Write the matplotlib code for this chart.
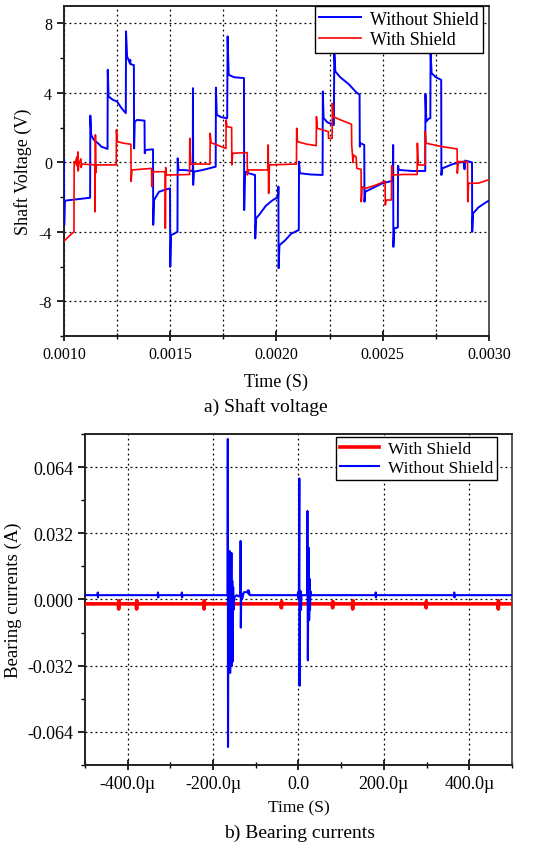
import numpy as np
import matplotlib
matplotlib.use("Agg")
from matplotlib import pyplot as plt
from matplotlib.ticker import MultipleLocator, FuncFormatter

plt.rcParams['font.family'] = ['Liberation Serif', 'DejaVu Serif']

# ---- a) shaft voltage, breakpoints (time in ms, volts)
t_noshield = [1.000, 1.001, 1.004, 1.010, 1.123,
              1.124, 1.128, 1.140, 1.160, 1.176, 1.205,
              1.206, 1.210, 1.230, 1.250, 1.272, 1.291,
              1.292, 1.297, 1.310, 1.312, 1.313, 1.329,
              1.330, 1.333, 1.345, 1.379,
              1.380, 1.384, 1.419,
              1.420, 1.424, 1.447, 1.470, 1.499,
              1.500, 1.504, 1.520, 1.534,
              1.535, 1.539, 1.570, 1.606,
              1.607, 1.608, 1.611, 1.650, 1.714,
              1.715, 1.719, 1.740, 1.768,
              1.770, 1.775, 1.800, 1.847,
              1.848, 1.852, 1.875, 1.899,
              1.900, 1.904, 1.920, 1.950, 1.980, 2.008,
              2.009, 2.010, 2.014, 2.040, 2.070, 2.105,
              2.106, 2.110, 2.160, 2.217,
              2.218, 2.222, 2.240, 2.270,
              2.272, 2.277, 2.300, 2.340, 2.370, 2.391,
              2.392, 2.395, 2.413,
              2.414, 2.418, 2.450, 2.500, 2.548,
              2.549, 2.550, 2.554, 2.571,
              2.572, 2.576, 2.640, 2.700,
              2.701, 2.705, 2.715, 2.724,
              2.725, 2.730, 2.750, 2.775,
              2.776, 2.780, 2.830, 2.880, 2.885, 2.888, 2.920,
              2.921, 2.925, 2.950, 2.980, 3.000]
v_noshield = [0.2, -3.6, -2.25, -2.2, -2.04,
              2.69, 1.58, 1.3, 1.1, 0.9, 0.77,
              5.33, 3.79, 3.6, 3.5, 3.1, 2.83,
              7.54, 6.1, 5.71, 5.9, 5.65, 5.6,
              0.8, 2.35, 2.44, 2.4,
              0.52, 0.71, 0.75,
              -3.6, -2.17, -1.7, -1.6, -1.5,
              -6.02, -4.19, -4.1, -4.0,
              0.23, -0.44, -0.45, -0.5,
              4.27, -1.3, -0.54, -0.45, -0.25,
              4.3, 2.73, 2.6, 2.54,
              7.25, 5.04, 4.9, 4.85,
              -2.75, -0.54, -0.65, -0.73,
              -4.38, -3.23, -3.0, -2.5, -2.2, -1.98,
              -1.4, -6.1, -4.77, -4.5, -4.1, -3.9,
              0.04, -0.63, -0.7, -0.73,
              4.08, 2.54, 2.3, 2.15,
              6.4, 5.23, 4.9, 4.5, 4.1, 3.88,
              0.9, 1.1, 1.0,
              -2.27, -1.69, -1.5, -1.2, -1.06,
              1.0, -4.87, -3.81, -3.75,
              -0.2, -0.44, -0.5, -0.5,
              3.92, 2.35, 2.5, 2.54,
              6.4, 5.13, 4.9, 4.75,
              -0.73, -0.35, -0.1, 0.04, -0.4, 0.1, 0.0,
              -4.0, -2.94, -2.6, -2.35, -2.2]

t_shield = [1.000, 1.020, 1.047,
            1.048, 1.052, 1.060, 1.061, 1.066, 1.067, 1.070, 1.080, 1.081, 1.085, 1.145,
            1.146, 1.148, 1.150, 1.153, 1.246,
            1.247, 1.251, 1.280, 1.315,
            1.316, 1.320, 1.360, 1.412,
            1.413, 1.417, 1.476,
            1.477, 1.479, 1.482, 1.540, 1.591,
            1.592, 1.596, 1.687,
            1.688, 1.692, 1.720, 1.762,
            1.763, 1.767, 1.789,
            1.790, 1.794, 1.862,
            1.863, 1.867, 1.960,
            1.961, 1.963, 1.967, 2.094,
            2.095, 2.099, 2.140, 2.187,
            2.188, 2.192, 2.244,
            2.245, 2.262, 2.263, 2.267, 2.300, 2.353,
            2.354, 2.360, 2.363, 2.375, 2.378, 2.398,
            2.399, 2.403, 2.420, 2.470, 2.511,
            2.512, 2.516, 2.541,
            2.542, 2.546, 2.600, 2.662,
            2.663, 2.667, 2.699,
            2.700, 2.704, 2.780, 2.850,
            2.851, 2.855, 2.899,
            2.900, 2.904, 2.950, 3.000]
v_shield = [-4.54, -4.3, -4.0,
            0.04, -0.1, 0.3, -0.2, 0.6, -0.5, -0.1, 0.2, -0.3, -0.1, -0.15,
            -2.85, 1.58, -0.6, -0.15, -0.15,
            1.87, 1.19, 1.1, 1.04,
            -1.1, -0.44, -0.4, -0.35,
            -1.4, -0.54, -0.54,
            -3.8, -0.3, -0.73, -0.72, -0.7,
            1.38, -0.1, -0.1,
            1.67, 1.13, 1.0, 0.8,
            2.44, 2.06, 2.0,
            -0.15, 0.52, 0.56,
            -0.73, -0.44, -0.44,
            1.0, -1.79, -0.15, -0.1,
            1.96, 1.19, 1.05, 0.96,
            2.63, 1.96, 1.77,
            1.38, 1.38, 3.4, 2.63, 2.45, 2.19,
            1.0, 0.0, 0.42, 0.3, -0.35, -0.4,
            -2.27, -1.4, -1.5, -1.3, -1.08,
            -2.46, -2.17, -2.17,
            -0.2, -0.73, -0.7, -0.7,
            1.1, -0.15, -0.15,
            1.77, 1.1, 0.9, 0.77,
            -0.63, 0.04, 0.04,
            -2.27, -1.21, -1.2, -1.0]

# ---- b) bearing currents (time in microseconds, amps)
tb_noshield = [-500,
               -471, -470, -469.5, -469,
               -330, -329, -328.5, -328,
               -274, -273, -272.5, -272,
               -166, -165.5, -165, -164, -163, -162, -161, -160, -159, -158,
               -157, -156, -155, -154, -153, -152, -150, -145, -140, -136,
               -135.5, -135, -134, -132, -128, -120, -118, -117, -116, -115, -114,
               -2, -1, 0, 1, 2, 2.5, 3.5, 5, 6, 7,
               20, 21, 22, 23, 24, 25, 26, 27, 28, 30,
               180, 181, 181.5, 182,
               364, 365, 365.5, 366,
               500]
ib_noshield = [0.0021,
               0.0021, 0.0034, 0.0010, 0.0021,
               0.0021, 0.0034, 0.0010, 0.0021,
               0.0021, 0.0034, 0.0010, 0.0021,
               0.0021, 0.0776, -0.0713, 0.0100, -0.0200, 0.0150, 0.0234, -0.0355, 0.0200, -0.0100,
               0.0225, -0.0320, 0.0090, -0.0300, 0.0060, -0.0050, 0.0010, 0.0021, 0.0015, 0.0021,
               0.0283, -0.0136, 0.0030, 0.0001, 0.0035, 0.0036, 0.0045, 0.0028, 0.0042, 0.0030, 0.0021,
               0.0021, 0.0035, 0.0005, 0.0021, 0.0585, -0.0417, 0.0020, 0.0040, -0.0050, 0.0021,
               0.0021, 0.0428, -0.0294, 0.0050, 0.0250, -0.0100, 0.0100, -0.0050, 0.0040, 0.0021,
               0.0021, 0.0034, 0.0010, 0.0021,
               0.0021, 0.0034, 0.0010, 0.0021,
               0.0021]

tb_shield = [-500,
             -422, -421, -420.5, -420,
             -380, -379, -378.5, -378,
             -222, -221, -220.5, -220,
             -41, -40, -39.5, -39,
             79, 80, 80.5, 81,
             126, 127, 127.5, 128,
             298, 299, 299.5, 300,
             467, 468, 468.5, 469,
             500]
ib_shield = [-0.0021,
             -0.0021, -0.0046, -0.0006, -0.0021,
             -0.0021, -0.0046, -0.0006, -0.0021,
             -0.0021, -0.0046, -0.0006, -0.0021,
             -0.0021, -0.0040, -0.0010, -0.0021,
             -0.0021, -0.0040, -0.0010, -0.0021,
             -0.0021, -0.0046, -0.0006, -0.0021,
             -0.0021, -0.0040, -0.0010, -0.0021,
             -0.0021, -0.0046, -0.0006, -0.0021,
             -0.0021]

fig = plt.figure(figsize=(5.44, 8.45), dpi=100)
ax1 = fig.add_axes([0.1176, 0.6012, 0.7813, 0.3905])
ax2 = fig.add_axes([0.1562, 0.0935, 0.7849, 0.3917])

grid_kw = dict(color='black', linestyle=(0, (1.5, 2.5)), linewidth=0.9)


def style_axes(ax, size):
    for side in ['left', 'bottom', 'top']:
        ax.spines[side].set_linewidth(1.4)
        ax.spines[side].set_color('#222222')
    ax.spines['right'].set_linewidth(1.4)
    ax.spines['right'].set_color('#555555')
    ax.tick_params(axis='y', which='both', direction='out', right=False, labelsize=size)
    ax.tick_params(axis='x', which='both', direction='inout', top=False, labelsize=size)
    ax.tick_params(which='major', length=7, width=1.2)
    ax.tick_params(axis='y', which='major', length=5)
    ax.tick_params(which='minor', length=5, width=1.0)
    ax.tick_params(axis='y', which='minor', length=3)


# --- top
ax1.plot(np.array(t_noshield) * 1e-3, v_noshield, color='#0000ff', lw=1.4,
         label='Without Shield', zorder=3)
ax1.plot(np.array(t_shield) * 1e-3, v_shield, color='#ff0000', lw=1.2,
         label='With Shield', zorder=4)
ax1.set_xlim(0.001, 0.003)
ax1.set_ylim(-10, 9)
ax1.xaxis.set_major_locator(MultipleLocator(0.0005))
ax1.xaxis.set_minor_locator(MultipleLocator(0.00025))
ax1.yaxis.set_major_locator(MultipleLocator(4))
ax1.yaxis.set_minor_locator(MultipleLocator(2))
ax1.xaxis.set_major_formatter(FuncFormatter(lambda x, p: '%.4f' % x))
ax1.yaxis.set_major_formatter(FuncFormatter(lambda y, p: '%d' % y))
ax1.grid(True, axis='x', which='both', **grid_kw)
ax1.grid(True, axis='y', which='major', **grid_kw)
style_axes(ax1, 11.5)
ax1.set_xlabel('Time (S)', fontsize=13)
ax1.set_ylabel('Shaft Voltage (V)', fontsize=13)
ax1.xaxis.set_label_coords(0.5, -0.11)
ax1.yaxis.set_label_coords(-0.075, 0.5)
leg1 = ax1.legend(loc='upper right', bbox_to_anchor=(0.986, 1.0), borderaxespad=0,
                  fontsize=13, fancybox=False, framealpha=1, edgecolor='black',
                  handlelength=2.3, handletextpad=0.5, borderpad=0.25, labelspacing=0.2)
leg1.get_frame().set_linewidth(1.0)

# --- bottom
ax2.plot(tb_shield, ib_shield, color='#ff0000', lw=2.6, label='With Shield', zorder=3)
ax2.plot(tb_noshield, ib_noshield, color='#0000ff', lw=1.5, label='Without Shield', zorder=4)
ax2.set_xlim(-500, 500)
ax2.set_ylim(-0.08, 0.08)
ax2.xaxis.set_major_locator(MultipleLocator(200))
ax2.xaxis.set_minor_locator(MultipleLocator(100))
ax2.yaxis.set_major_locator(MultipleLocator(0.032))
ax2.yaxis.set_minor_locator(MultipleLocator(0.016))
ax2.xaxis.set_major_formatter(FuncFormatter(lambda x, p: '0.0' if abs(x) < 1e-9 else '%.1f\u00b5' % x))
ax2.yaxis.set_major_formatter(FuncFormatter(lambda y, p: '%.3f' % y))
ax2.grid(True, axis='both', which='major', **grid_kw)
style_axes(ax2, 13)
ax2.set_xlabel('Time (S)', fontsize=12.5)
ax2.set_ylabel('Bearing currents (A)', fontsize=13.5)
ax2.xaxis.set_label_coords(0.5, -0.105)
ax2.yaxis.set_label_coords(-0.148, 0.5)
leg2 = ax2.legend(loc='upper right', bbox_to_anchor=(0.965, 0.991), borderaxespad=0,
                  fontsize=12.5, fancybox=False, framealpha=1, edgecolor='black',
                  handlelength=2.3, handletextpad=0.5, borderpad=0.2, labelspacing=0.2)
leg2.get_frame().set_linewidth(1.0)

fig.text(266 / 544, 1 - 407 / 845, 'a) Shaft voltage', ha='center', va='center', fontsize=14)
fig.text(300 / 544, 1 - 833 / 845, 'b) Bearing currents', ha='center', va='center', fontsize=14)

fig.savefig('out.png', dpi=100)
